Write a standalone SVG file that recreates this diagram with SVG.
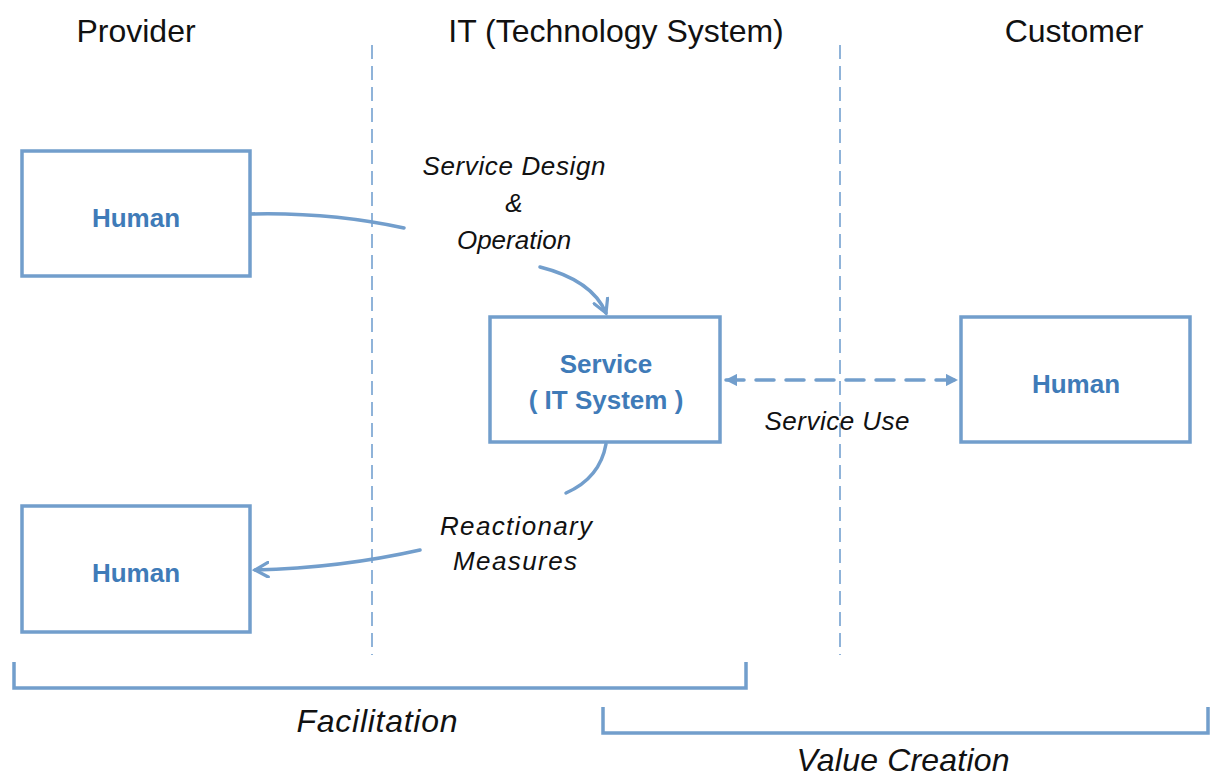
<svg xmlns="http://www.w3.org/2000/svg" width="1212" height="780" viewBox="0 0 1212 780">
<defs>
<style>
.hdr{font-family:"Liberation Sans",Arial,sans-serif;font-size:32px;fill:#111;text-anchor:middle}
.node{fill:#fff;stroke:#729ecc;stroke-width:3.5}
.nlab{font-family:"Liberation Sans",Arial,sans-serif;font-size:26px;font-weight:bold;fill:#3f7bb8;text-anchor:middle}
.lab{font-family:"Liberation Sans",Arial,sans-serif;font-size:26px;font-style:italic;fill:#111;text-anchor:middle}
.big{font-family:"Liberation Sans",Arial,sans-serif;font-size:32px;font-style:italic;fill:#111;text-anchor:middle}
.sep{stroke:#8fb3d9;stroke-width:2;stroke-dasharray:14 7;fill:none}
.con{stroke:#729ecc;stroke-width:3.5;fill:none;stroke-linecap:round}
.brk{stroke:#729ecc;stroke-width:3.5;fill:none}
</style>
<marker id="chev" viewBox="0 0 12 12" refX="10" refY="6" markerWidth="5" markerHeight="5" orient="auto" markerUnits="strokeWidth">
<path d="M1,1 L10,6 L1,11" fill="none" stroke="#729ecc" stroke-width="2.2" stroke-linecap="round"/>
</marker>
<marker id="tri" viewBox="0 0 10 10" refX="9" refY="5" markerWidth="3.5" markerHeight="3.5" orient="auto-start-reverse" markerUnits="strokeWidth">
<path d="M0,0 L10,5 L0,10 Z" fill="#729ecc"/>
</marker>
</defs>
<rect width="1212" height="780" fill="#fff"/>

<g id="headers">
<text class="hdr" x="136" y="42">Provider</text>
<text class="hdr" x="616" y="42">IT (Technology System)</text>
<text class="hdr" x="1074" y="42">Customer</text>
</g>

<g id="separators">
<line class="sep" x1="372" y1="45" x2="372" y2="655"/>
<line class="sep" x1="840" y1="45" x2="840" y2="655"/>
</g>

<g id="connectors">
<path class="con" d="M250,214 Q330,212 404,228"/>
<path class="con" d="M540,267 Q592,280 606,313" marker-end="url(#chev)"/>
<path class="con" d="M606,444 Q600,478 566,493"/>
<path class="con" d="M420,550 Q340,568 255,570" marker-end="url(#chev)"/>
<line class="con" x1="726" y1="380" x2="957" y2="380" stroke-dasharray="18 12" stroke-linecap="butt" marker-start="url(#tri)" marker-end="url(#tri)"/>
</g>

<g id="human-provider-top">
<rect class="node" x="22" y="151" width="228" height="125"/>
<text class="nlab" x="136" y="227">Human</text>
</g>
<g id="human-provider-bottom">
<rect class="node" x="22" y="506" width="228" height="126"/>
<text class="nlab" x="136" y="582">Human</text>
</g>
<g id="service">
<rect class="node" x="490" y="317" width="230" height="125"/>
<text class="nlab" x="606" y="373">Service</text>
<text class="nlab" x="606" y="409">( IT System )</text>
</g>
<g id="human-customer">
<rect class="node" x="961" y="317" width="229" height="125"/>
<text class="nlab" x="1076" y="393">Human</text>
</g>

<g id="labels">
<text class="lab" x="514" y="175" textLength="183">Service Design</text>
<text class="lab" x="514" y="212">&amp;</text>
<text class="lab" x="514" y="249">Operation</text>
<text class="lab" x="837" y="430" textLength="145">Service Use</text>
<text class="lab" x="516" y="535" textLength="152">Reactionary</text>
<text class="lab" x="515" y="570" textLength="124">Measures</text>
</g>

<g id="brackets">
<path class="brk" d="M14,662 L14,688 L746,688 L746,662"/>
<text class="big" x="377" y="732" textLength="161">Facilitation</text>
<path class="brk" d="M603,707 L603,733 L1208,733 L1208,707"/>
<text class="big" x="903" y="771" textLength="213">Value Creation</text>
</g>
</svg>
